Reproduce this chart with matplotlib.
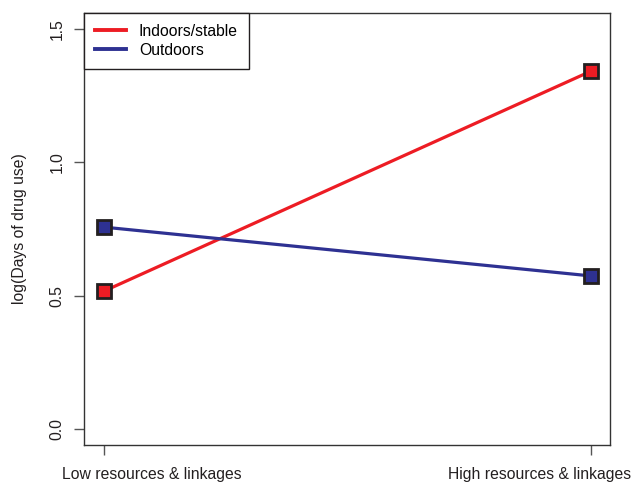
import matplotlib.pyplot as plt
from matplotlib.lines import Line2D
from matplotlib.transforms import ScaledTranslation

plt.rcParams['font.family'] = ['Liberation Sans', 'DejaVu Sans']

# Group means on the log scale
groups = ['Low resources & linkages', 'High resources & linkages']
indoors = [0.517, 1.342]
outdoors = [0.757, 0.574]
yticks = [0.0, 0.5, 1.0, 1.5]

red = '#ED1C24'
blue = '#2E3192'
axis_col = '#555555'
fs = 11.3

fig = plt.figure(figsize=(6.35, 4.82), dpi=100)
ax = fig.add_axes([84 / 635, 37 / 482, 526 / 635, 432 / 482])

x = range(len(groups))
for vals, col in [(indoors, red), (outdoors, blue)]:
    ax.plot(x, vals, color=col, lw=2.3, zorder=2)
    ax.plot(x, vals, ls='none', marker='s', ms=10, mfc=col, mec='#231F20',
            mew=2, zorder=3)

ax.set_xlim(-0.041, 1.039)
ax.set_ylim(-0.06, 1.56)
ax.set_xticks(list(x))
ax.set_xticklabels(groups, fontsize=fs)
ax.set_yticks(yticks)
ax.set_yticklabels([f'{v:.1f}' for v in yticks], rotation=90, va='center',
                   fontsize=fs)
ax.tick_params(axis='both', direction='out', length=7, width=1,
               color=axis_col, labelcolor='#231F20')
ax.tick_params(axis='x', pad=9)
ax.tick_params(axis='y', pad=7)
# pull the two category labels inward so they stay on the canvas
for lab, dx in zip(ax.get_xticklabels(), [0.48, -0.51]):
    lab.set_transform(lab.get_transform() +
                      ScaledTranslation(dx, 0, fig.dpi_scale_trans))
for s in ax.spines.values():
    s.set_color('#333333')
    s.set_linewidth(1)

ax.set_ylabel('log(Days of drug use)', fontsize=fs, color='#231F20',
              labelpad=16.5)

handles = [Line2D([], [], color=red, lw=2.8), Line2D([], [], color=blue, lw=2.8)]
leg = ax.legend(handles, ['Indoors/stable', 'Outdoors'], loc='upper left',
                bbox_to_anchor=(0, 1), borderaxespad=0, fancybox=False,
                framealpha=1, edgecolor='#231F20', fontsize=fs,
                handlelength=2.0, handletextpad=0.8, borderpad=0.7,
                labelspacing=0.25)
leg.get_frame().set_linewidth(1)

fig.savefig('out.png', dpi=100)
